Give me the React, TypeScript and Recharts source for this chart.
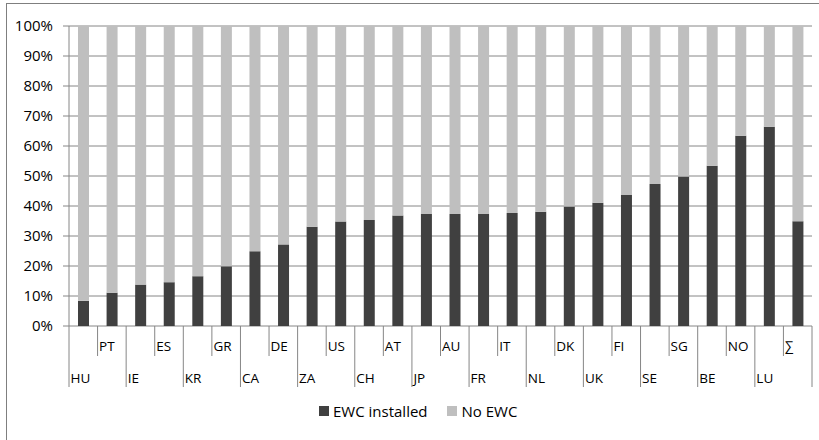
import React from 'react';
import { BarChart, Bar, XAxis, YAxis, CartesianGrid, Legend } from 'recharts';

const countries = ['HU', 'PT', 'IE', 'ES', 'KR', 'GR', 'CA', 'DE', 'ZA', 'US', 'CH', 'AT', 'JP', 'AU', 'FR', 'IT', 'NL', 'DK', 'UK', 'FI', 'SE', 'SG', 'BE', 'NO', 'LU', '∑'];
const ewcInstalled = [8.4, 11.1, 13.8, 14.6, 16.6, 19.9, 24.9, 27.2, 33.1, 34.8, 35.3, 36.8, 37.3, 37.3, 37.3, 37.7, 38.1, 39.8, 41.1, 43.7, 47.3, 49.8, 53.4, 63.4, 66.4, 34.9];
const noEwc = [91.6, 88.9, 86.2, 85.4, 83.4, 80.1, 75.1, 72.8, 66.9, 65.2, 64.7, 63.2, 62.7, 62.7, 62.7, 62.3, 61.9, 60.2, 58.9, 56.3, 52.7, 50.2, 46.6, 36.6, 33.6, 65.1];
const yTicks = [0, 10, 20, 30, 40, 50, 60, 70, 80, 90, 100];

const data = countries.map((c, i) => ({ name: c, ewc: ewcInstalled[i], no: noEwc[i] }));

const W = 819;
const H = 440;
const PLOT_LEFT = 69;
const PLOT_RIGHT = 812;
const PLOT_TOP = 26;
const PLOT_BOTTOM = 326;
const BAND = (PLOT_RIGHT - PLOT_LEFT) / countries.length;
const DARK = '#404040';
const LIGHT = '#bfbfbf';
const GRID = '#868686';
const FONT = '"Open Sans", sans-serif';

const CatTick = (props: any) => {
  const { x, payload } = props;
  const i = payload.index;
  const left = x - BAND / 2;
  const low = i % 2 === 0;
  const len = low ? 61 : 30;
  return (
    <g>
      <line x1={left} y1={PLOT_BOTTOM} x2={left} y2={PLOT_BOTTOM + len} stroke={GRID} strokeWidth={1} />
      <text x={left + 1.5} y={low ? 383 : 351} fontSize={13.5} fontFamily={FONT} fill="#000">
        {payload.value}
      </text>
      {i === countries.length - 1 && (
        <line x1={left + BAND} y1={PLOT_BOTTOM} x2={left + BAND} y2={PLOT_BOTTOM + 61} stroke={GRID} strokeWidth={1} />
      )}
    </g>
  );
};

const LegendContent = () => (
  <div style={{ display: 'flex', alignItems: 'center', fontFamily: FONT, fontSize: 15, color: '#000', whiteSpace: 'nowrap' }}>
    <span style={{ display: 'inline-block', width: 10, height: 10, background: DARK, marginRight: 4 }} />
    <span style={{ marginRight: 19 }}>EWC installed</span>
    <span style={{ display: 'inline-block', width: 10, height: 10, background: LIGHT, marginRight: 5 }} />
    <span>No EWC</span>
  </div>
);

export default function App() {
  return (
    <div style={{ position: 'absolute', left: 0, top: 0, width: W, height: H, background: '#fff', overflow: 'hidden' }}>
      <div style={{ position: 'absolute', left: 6, top: 3, width: 830, height: 450, border: '1px solid #7f7f7f' }} />
      <div style={{ position: 'absolute', left: 0, top: 0 }}>
        <BarChart
          width={W}
          height={H}
          data={data}
          margin={{ top: PLOT_TOP, right: W - PLOT_RIGHT, left: 0, bottom: H - PLOT_BOTTOM - 70 }}
          barSize={11}
        >
          <CartesianGrid vertical={false} stroke={GRID} strokeWidth={1} />
          <XAxis
            dataKey="name"
            interval={0}
            axisLine={false}
            tickLine={false}
            height={70}
            tick={<CatTick />}
          />
          <YAxis
            width={PLOT_LEFT}
            domain={[0, 100]}
            ticks={yTicks}
            interval={0}
            tickFormatter={(v: number) => `${v}%`}
            axisLine={{ stroke: GRID }}
            tickLine={{ stroke: GRID }}
            tickSize={6}
            tickMargin={10}
            tick={{ fontSize: 15, fontFamily: FONT, fill: '#000' }}
          />
          <Legend
            layout="vertical"
            verticalAlign="middle"
            align="center"
            wrapperStyle={{ position: 'absolute', top: 401, left: 319, width: 300, height: 22 }}
            content={<LegendContent />}
          />
          <Bar dataKey="ewc" name="EWC installed" stackId="a" fill={DARK} isAnimationActive={false} />
          <Bar dataKey="no" name="No EWC" stackId="a" fill={LIGHT} isAnimationActive={false} />
        </BarChart>
      </div>
    </div>
  );
}
